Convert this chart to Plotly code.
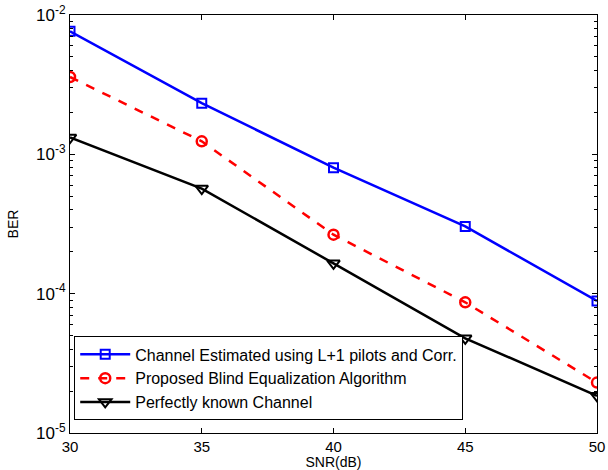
import plotly.graph_objects as go

snr = [30, 35, 40, 45, 50]
ber_estimated = [7.64e-3, 2.33e-3, 8.02e-4, 3.04e-4, 8.87e-5]
ber_blind = [3.59e-3, 1.24e-3, 2.65e-4, 8.67e-5, 2.30e-5]
ber_known = [1.32e-3, 5.68e-4, 1.65e-4, 4.78e-5, 1.85e-5]

names = ["Channel Estimated using L+1 pilots and Corr.",
         "Proposed Blind Equalization Algorithm",
         "Perfectly known Channel"]

y_tickvals = [1e-5, 1e-4, 1e-3, 1e-2]
y_ticktext = ["10<sup>-5</sup>", "10<sup>-4</sup>", "10<sup>-3</sup>", "10<sup>-2</sup>"]
x_tickvals = [30, 35, 40, 45, 50]

FONT = "Liberation Sans, Arial, sans-serif"

fig = go.Figure()
fig.add_trace(go.Scatter(x=snr, y=ber_estimated, name=names[0], mode="lines+markers",
                         line=dict(color="#0000ff", width=2.5),
                         marker=dict(symbol="square-open", size=9, color="#0000ff",
                                     line=dict(width=2))))
fig.add_trace(go.Scatter(x=snr, y=ber_blind, name=names[1], mode="lines+markers",
                         line=dict(color="#ff0000", width=2.5, dash="dash"),
                         marker=dict(symbol="circle-open", size=10, color="#ff0000",
                                     line=dict(width=2.5))))
fig.add_trace(go.Scatter(x=snr, y=ber_known, name=names[2], mode="lines+markers",
                         line=dict(color="#000000", width=2.5),
                         marker=dict(symbol="triangle-down-open", size=11, color="#000000",
                                     line=dict(width=2))))

axis_common = dict(showline=True, linecolor="black", linewidth=1, mirror="allticks",
                   ticks="inside", tickcolor="black", showgrid=False, zeroline=False,
                   automargin=False)

fig.update_xaxes(range=[30, 50], tickvals=x_tickvals, ticklen=5,
                 tickfont=dict(family=FONT, size=15, color="black"),
                 title=dict(text="SNR(dB)", standoff=4,
                            font=dict(family=FONT, size=14, color="black")),
                 **axis_common)
fig.update_yaxes(type="log", range=[-5, -2], tickvals=y_tickvals, ticktext=y_ticktext, ticklen=5,
                 tickfont=dict(family=FONT, size=17, color="black"),
                 minor=dict(ticks="inside", ticklen=3, tickcolor="black", dtick="D1", showgrid=False),
                 title=dict(text="BER", standoff=14,
                            font=dict(family=FONT, size=14, color="black")),
                 **axis_common)

fig.update_layout(
    width=608, height=470,
    margin=dict(l=70, r=11, t=15, b=37),
    plot_bgcolor="white", paper_bgcolor="white",
    font=dict(family=FONT, size=14, color="black"),
    showlegend=True,
    legend=dict(x=0.008, y=0.03, xanchor="left", yanchor="bottom",
                bgcolor="white", bordercolor="black", borderwidth=1,
                font=dict(family=FONT, size=16, color="black"),
                tracegroupgap=0, itemwidth=50),
)

fig.write_html("out.html", config={"displayModeBar": False},
               post_script="document.body.style.margin='0px';")
